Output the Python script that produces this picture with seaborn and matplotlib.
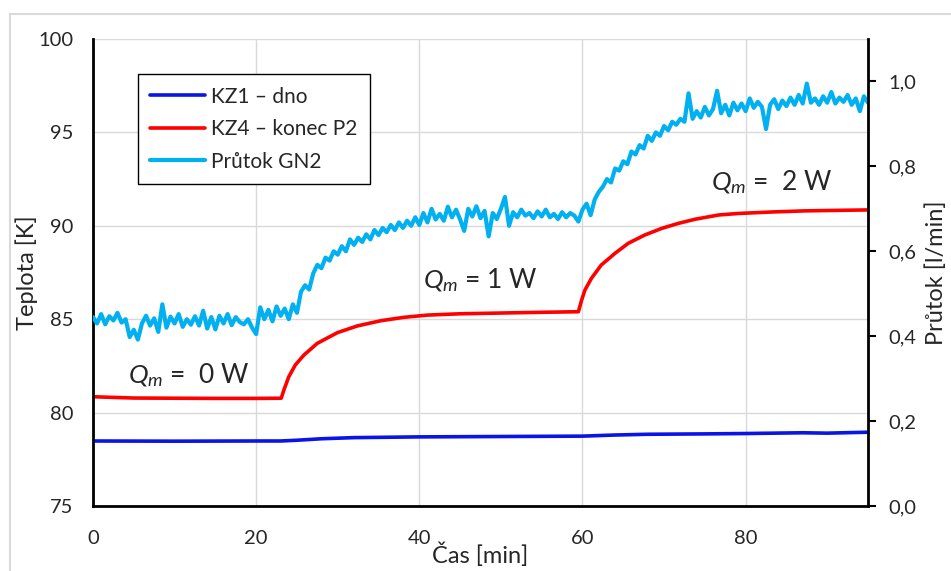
import numpy as np
import pandas as pd
import matplotlib.pyplot as plt
import matplotlib.patches as mpatches
import seaborn as sns

# KZ1 - dno (bottom sensor), temperature [K]
BLUE_T = [0, 10, 20, 23, 25, 28, 32, 40, 50, 60, 64, 68, 75, 80, 87, 90, 95]
BLUE_K = [78.48, 78.47, 78.48, 78.48, 78.52, 78.60, 78.66, 78.70, 78.72, 78.74,
          78.80, 78.84, 78.86, 78.88, 78.92, 78.90, 78.95]

# KZ4 - konec P2, temperature [K]
RED_T = [0, 2, 5, 10, 15, 20, 23.07, 23.4, 24.0, 24.8, 25.85, 27.5, 29.96,
         32.4, 35.3, 38.1, 41.0, 45, 50, 55, 59.5, 59.9, 60.3, 61.1, 62.3,
         64.0, 65.6, 67.6, 69.7, 71.75, 73.8, 76.7, 79.1, 83.2, 87.3, 95]
RED_K = [80.85, 80.82, 80.78, 80.77, 80.76, 80.76, 80.77, 81.21, 81.92, 82.55,
         83.08, 83.71, 84.28, 84.64, 84.92, 85.10, 85.22, 85.29, 85.33, 85.37,
         85.40, 86.03, 86.56, 87.19, 87.90, 88.53, 89.06, 89.50, 89.86, 90.13,
         90.35, 90.58, 90.66, 90.74, 90.80, 90.85]

# Průtok GN2, flow [l/min], one reading every 0.5 min from 0 to 95
FLOW_T = np.arange(0, 95.01, 0.5)
FLOW = [
    0.445, 0.430, 0.452, 0.428, 0.447, 0.437, 0.455, 0.432, 0.440, 0.398,
    0.415, 0.392, 0.430, 0.448, 0.425, 0.442, 0.410, 0.475, 0.420, 0.446,
    0.430, 0.452, 0.422, 0.440, 0.427, 0.447, 0.425, 0.460, 0.418, 0.445,
    0.416, 0.448, 0.430, 0.452, 0.426, 0.445, 0.433, 0.428, 0.440, 0.420,
    0.405, 0.468, 0.440, 0.462, 0.435, 0.470, 0.448, 0.465, 0.440, 0.475,
    0.455, 0.505, 0.520, 0.510, 0.548, 0.568, 0.560, 0.585, 0.578, 0.600,
    0.592, 0.612, 0.600, 0.628, 0.615, 0.632, 0.622, 0.640, 0.628, 0.650,
    0.638, 0.655, 0.645, 0.662, 0.650, 0.668, 0.655, 0.672, 0.660, 0.680,
    0.662, 0.690, 0.668, 0.700, 0.675, 0.688, 0.672, 0.705, 0.680, 0.698,
    0.675, 0.648, 0.700, 0.682, 0.706, 0.678, 0.695, 0.635, 0.690, 0.676,
    0.700, 0.728, 0.660, 0.692, 0.680, 0.698, 0.684, 0.690, 0.678, 0.694,
    0.682, 0.698, 0.680, 0.688, 0.676, 0.692, 0.680, 0.690, 0.684, 0.670,
    0.698, 0.712, 0.685, 0.722, 0.740, 0.752, 0.770, 0.762, 0.795, 0.790,
    0.812, 0.805, 0.835, 0.828, 0.850, 0.842, 0.872, 0.860, 0.880, 0.872,
    0.895, 0.885, 0.905, 0.898, 0.912, 0.905, 0.972, 0.912, 0.930, 0.915,
    0.940, 0.920, 0.935, 0.978, 0.925, 0.945, 0.920, 0.950, 0.932, 0.948,
    0.930, 0.960, 0.938, 0.952, 0.940, 0.888, 0.945, 0.958, 0.935, 0.955,
    0.942, 0.962, 0.945, 0.968, 0.948, 0.995, 0.950, 0.960, 0.945, 0.965,
    0.950, 0.975, 0.948, 0.962, 0.952, 0.968, 0.945, 0.960, 0.930, 0.965,
    0.950,
]

LEFT_TICKS = [75, 80, 85, 90, 95, 100]
RIGHT_TICKS = [0.0, 0.2, 0.4, 0.6, 0.8, 1.0]
RIGHT_LABELS = ["0,0", "0,2", "0,4", "0,6", "0,8", "1,0"]
X_TICKS = [0, 20, 40, 60, 80]

ANNOTATIONS = [
    (4.3, 82.0, r"$Q_m$ =  0 W"),
    (40.4, 87.1, r"$Q_m$ = 1 W"),
    (75.8, 92.35, r"$Q_m$ =  2 W"),
]

sns.set_style("white")
plt.rcParams["font.family"] = ["Lato", "DejaVu Sans"]
plt.rcParams["mathtext.fontset"] = "custom"
plt.rcParams["mathtext.rm"] = "Lato"
plt.rcParams["mathtext.it"] = "Lato:italic"

FS = 14.5     # tick labels
LFS = 17      # axis labels
GRID = "#D9D9D9"

fig = plt.figure(figsize=(9.51, 5.71), dpi=100)
ax = fig.add_axes([93 / 951, 65 / 571, 775 / 951, 467 / 571])
ax2 = ax.twinx()

blue_df = pd.DataFrame({"t": BLUE_T, "T": BLUE_K})
red_df = pd.DataFrame({"t": RED_T, "T": RED_K})
flow_df = pd.DataFrame({"t": FLOW_T, "Q": FLOW})

sns.lineplot(data=blue_df, x="t", y="T", ax=ax, color="#0A14E6", lw=2.6,
             label="KZ1 – dno", estimator=None)
sns.lineplot(data=red_df, x="t", y="T", ax=ax, color="#FF0000", lw=2.6,
             label="KZ4 – konec P2", estimator=None)
sns.lineplot(data=flow_df, x="t", y="Q", ax=ax2, color="#00B0F0", lw=3.0,
             label="Průtok GN2", estimator=None)

ax.set_xlim(0, 95)
ax.set_ylim(75, 100)
ax2.set_ylim(0, 1.1)

ax.set_xticks(X_TICKS)
ax.set_yticks(LEFT_TICKS)
ax2.set_yticks(RIGHT_TICKS)
ax2.set_yticklabels(RIGHT_LABELS)

ax.grid(True, color=GRID, lw=1.0)
ax.set_axisbelow(True)
ax.tick_params(axis="both", length=0, labelsize=FS)
ax.tick_params(axis="y", pad=14)
ax.tick_params(axis="x", pad=17)
ax2.tick_params(axis="y", direction="out", length=6, width=1.5,
                labelsize=FS, pad=9, color="black")

for a in (ax, ax2):
    a.spines["top"].set_visible(False)
    for s in ("left", "right", "bottom"):
        a.spines[s].set_color("black")
        a.spines[s].set_linewidth(2)
ax.spines["right"].set_visible(False)
ax2.spines["left"].set_visible(False)
ax2.spines["bottom"].set_visible(False)

ax.set_xlabel("Čas [min]", fontsize=LFS, labelpad=-3)
ax.set_ylabel("Teplota [K]", fontsize=LFS, labelpad=0)
ax2.set_ylabel("Průtok [l/min]", fontsize=LFS, labelpad=6)

for x, y, s in ANNOTATIONS:
    ax.text(x, y, s, fontsize=19, ha="left", va="center")

h1, l1 = ax.get_legend_handles_labels()
h2, l2 = ax2.get_legend_handles_labels()
if ax.get_legend() is not None:
    ax.get_legend().remove()
leg = ax2.legend(h1 + h2, l1 + l2, loc="upper left",
                 bbox_to_anchor=(0.058, 0.925), borderaxespad=0,
                 fontsize=15, frameon=True, fancybox=False,
                 handlelength=2.6, handletextpad=0.3, labelspacing=0.6,
                 borderpad=0.6)
leg.get_frame().set_edgecolor("black")
leg.get_frame().set_linewidth(1.0)
leg.get_frame().set_alpha(1)

fig.patches.append(mpatches.Rectangle(
    (10 / 951, -0.05), 1.1, 1 - 14 / 571 + 0.05, transform=fig.transFigure,
    fill=False, edgecolor=GRID, lw=1.5, clip_on=False))

fig.savefig("out.png", dpi=100)
